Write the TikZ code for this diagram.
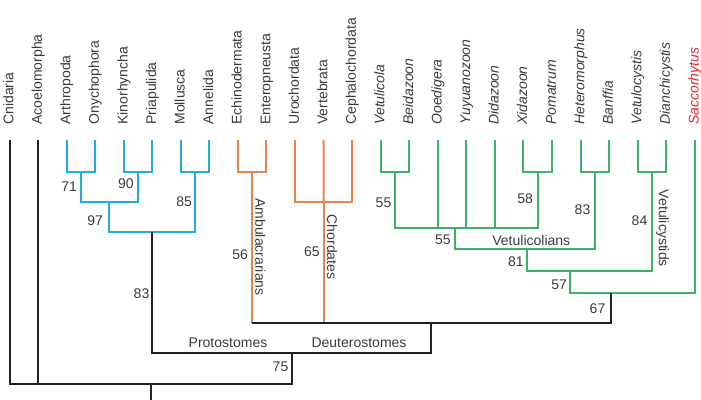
\documentclass[tikz,border=0pt]{standalone}
\usepackage{fontspec}
\setmainfont{Liberation Sans}
\usepackage{tikz}
\usetikzlibrary{calc}
\definecolor{protoblue}{RGB}{34, 170, 226}
\definecolor{deutorange}{RGB}{232, 131, 77}
\definecolor{vetugreen}{RGB}{61, 179, 103}
\definecolor{saccred}{RGB}{227, 36, 43}
\definecolor{textgray}{RGB}{58, 58, 58}
\definecolor{treeblack}{RGB}{34, 34, 34}

\begin{document}
\begin{tikzpicture}[
    x=0.5pt, y=-0.5pt,
    taxon/.style={rotate=90, anchor=base west, inner sep=0pt, font=\fontsize{7}{8}\selectfont, text=textgray},
    support/.style={anchor=east, inner sep=0pt, font=\fontsize{7}{8}\selectfont, text=textgray},
    clade/.style={inner sep=0pt, font=\fontsize{7}{8}\selectfont, text=textgray},
    branch/.style={line width=1pt, treeblack},
    pbranch/.style={branch, protoblue},
    dbranch/.style={branch, deutorange},
    vbranch/.style={branch, vetugreen}
]
\useasboundingbox (0,0) rectangle (701,400);

% Taxa
\foreach \name [count=\i from 0] in {Cnidaria, Acoelomorpha, Arthropoda, Onychophora, Kinorhyncha, Priapulida, Mollusca, Annelida, Echinodermata, Enteropneusta, Urochordata, Vertebrata, Cephalochordata} {
  \coordinate (leaf\i) at ({9.5+28.55*\i},140);
  \node[taxon] (tx\i) at ({13.3+28.55*\i},125) {\name};
}
\foreach \name [count=\i from 13] in {Vetulicola, Beidazoon, Ooedigera, Yuyuanozoon, Didazoon, Xidazoon, Pomatrum, Heteromorphus, Banffia, Vetulocystis, Dianchicystis} {
  \coordinate (leaf\i) at ({9.5+28.55*\i},140);
  \node[taxon] (tx\i) at ({13.3+28.55*\i},125) {\textit{\name}};
}
\coordinate (leaf24) at (694.7,140);
\node[taxon, text=saccred] (tx24) at (698.5,125) {\textit{Saccorhytus}};

% Internal nodes
\coordinate (arony) at (80.9,171.7);
\coordinate (kipri) at (138,171.7);
\coordinate (molan) at (195,171.7);
\coordinate (ecdy) at (109.3,201.7);
\coordinate (proto) at (152.3,231.7);
\coordinate (ambu) at (252.2,171.7);
\coordinate (chord) at (323.55,201.7);
\coordinate (vebei) at (395,171.7);
\coordinate (xipom) at (537.7,171.7);
\coordinate (vpoly) at (455.3,228.3);
\coordinate (hetban) at (594.8,171.7);
\coordinate (vetcol) at (526.5,249);
\coordinate (vedian) at (651.9,171.7);
\coordinate (vetul) at (570,271);
\coordinate (vetsac) at (610.7,292.7);
\coordinate (deut) at (431,323.3);
\coordinate (bilat) at (291.7,353.3);
\coordinate (root) at (150.6,384);
\coordinate (rootend) at (150.6,400);

% Protostomes
\draw[pbranch] (leaf2) |- (arony) -| (leaf3);
\draw[pbranch] (leaf4) |- (kipri) -| (leaf5);
\draw[pbranch] (leaf6) |- (molan) -| (leaf7);
\draw[pbranch] (arony) |- (ecdy) -| (kipri);
\draw[pbranch] (ecdy) |- (proto) -| (molan);

% Deuterostomes
\draw[dbranch] (leaf8) |- (ambu) -| (leaf9);
\draw[dbranch] (leaf10) |- (chord) -| (leaf12);
\draw[dbranch] (leaf11) -- (chord);
\draw[dbranch] (ambu) -- (ambu |- deut);
\draw[dbranch] (chord) -- (chord |- deut);

% Vetulicolians and vetulicystids
\draw[vbranch] (leaf13) |- (vebei) -| (leaf14);
\draw[vbranch] (leaf18) |- (xipom) -| (leaf19);
\draw[vbranch] (vebei) |- (vpoly) -| (xipom);
\foreach \i in {15,16,17} \draw[vbranch] (leaf\i) -- (leaf\i |- vpoly);
\draw[vbranch] (leaf20) |- (hetban) -| (leaf21);
\draw[vbranch] (vpoly) |- (vetcol) -| (hetban);
\draw[vbranch] (leaf22) |- (vedian) -| (leaf23);
\draw[vbranch] (vetcol) |- (vetul) -| (vedian);
\draw[vbranch] (vetul) |- (vetsac) -| (leaf24);

% Backbone
\draw[branch] (ambu |- deut) -| (vetsac);
\draw[branch] (proto) |- (bilat) -| (deut);
\draw[branch] (leaf0) |- (root) -| (bilat);
\draw[branch] (leaf1) -- (leaf1 |- root);
\draw[branch] (root) -- (rootend);

% Support values
\node[support] (s71) at (77.3,186.7) {71};
\node[support] (s90) at (134,183.3) {90};
\node[support] (s97) at (103.3,220.7) {97};
\node[support] (s85) at (192.3,201.7) {85};
\node[support] (s83) at (149.7,293.3) {83};
\node[support] (s56) at (248.3,255) {56};
\node[support] (s65) at (320,251.7) {65};
\node[support] (s75) at (288.7,366.7) {75};
\node[support] (s55a) at (391.7,202.3) {55};
\node[support] (s58) at (533.3,199) {58};
\node[support] (s83g) at (590.7,210) {83};
\node[support] (s84) at (647.7,221) {84};
\node[support] (s55b) at (451,240) {55};
\node[support] (s81) at (524,261.7) {81};
\node[support] (s57) at (567.3,284.3) {57};
\node[support] (s67) at (605.7,308.7) {67};

% Clade names
\node[clade, rotate=-90] (ambl) at (260.3,247) {Ambulacrarians};
\node[clade, rotate=-90] (chl) at (332,247) {Chordates};
\node[clade, rotate=-90] (vcl) at (662.5,228.3) {Vetulicystids};
\node[clade] (vetl) at (531.3,240.7) {Vetulicolians};
\node[clade] (prl) at (228,342.7) {Protostomes};
\node[clade] (del) at (359,342.7) {Deuterostomes};

\end{tikzpicture}
\end{document}
